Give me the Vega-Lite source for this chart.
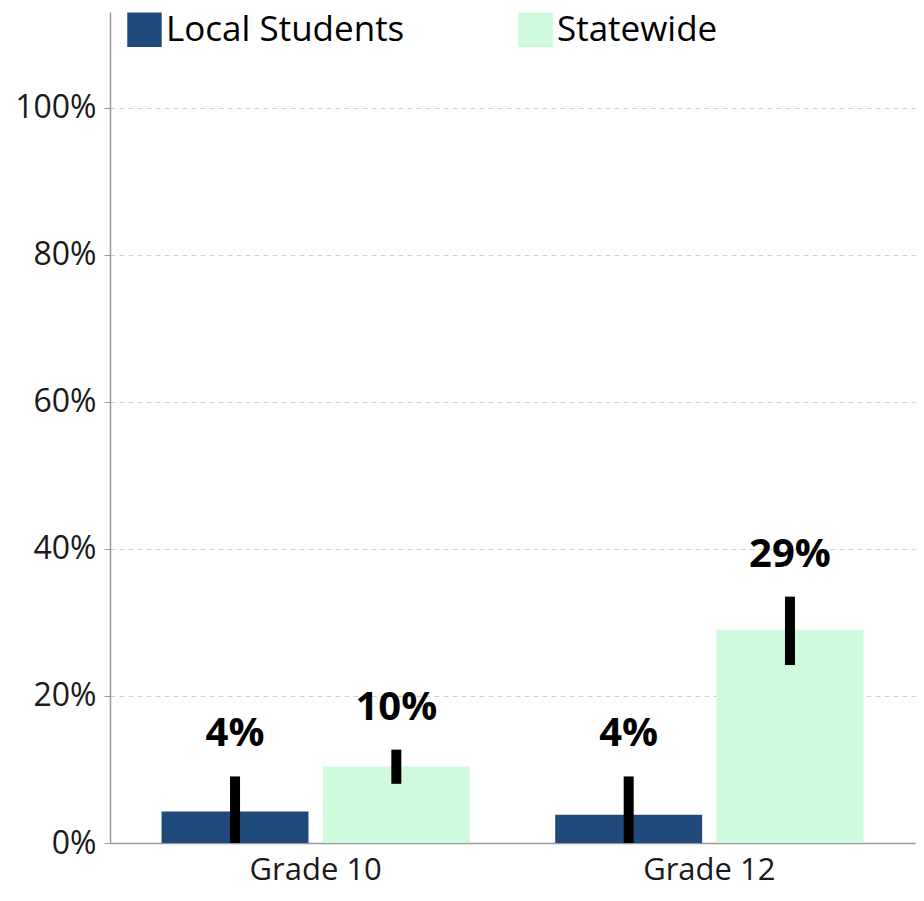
{
  "$schema": "https://vega.github.io/schema/vega-lite/v6.json",
  "width": 805,
  "height": 831,
  "autosize": {"type": "none"},
  "padding": {"left": 110, "top": 12, "right": 9, "bottom": 58},
  "config": {"view": {"stroke": null}, "font": "Open Sans"},
  "data": {
    "values": [
      {"grade": "Grade 10", "group": "Local Students", "value": 4.3, "lo": 0, "hi": 9.05, "label": "4%"},
      {"grade": "Grade 10", "group": "Statewide", "value": 10.4, "lo": 8.05, "hi": 12.7, "label": "10%"},
      {"grade": "Grade 12", "group": "Local Students", "value": 3.85, "lo": 0, "hi": 9.05, "label": "4%"},
      {"grade": "Grade 12", "group": "Statewide", "value": 29.0, "lo": 24.2, "hi": 33.5, "label": "29%"}
    ]
  },
  "encoding": {
    "x": {
      "field": "grade",
      "type": "nominal",
      "scale": {"paddingInner": 0.217, "paddingOuter": 0.131},
      "axis": {
        "title": null,
        "ticks": false,
        "labelAngle": 0,
        "labelFontSize": 31,
        "labelFont": "Open Sans",
        "labelColor": "#1a1a1a",
        "labelPadding": 12,
        "domainColor": "#999999",
        "domainWidth": 1.5
      }
    },
    "xOffset": {"field": "group", "type": "nominal", "scale": {"paddingInner": 0.089, "paddingOuter": 0}}
  },
  "layer": [
    {
      "mark": {"type": "bar"},
      "encoding": {
        "y": {
          "field": "value",
          "type": "quantitative",
          "scale": {"domain": [0, 113], "nice": false, "zero": true},
          "axis": {
            "title": null,
            "values": [0, 20, 40, 60, 80, 100],
            "labelExpr": "datum.value + '%'",
            "grid": true,
            "gridDash": [5, 4],
            "gridColor": "#d0d0d0",
            "domainColor": "#999999",
            "domainWidth": 1.5,
            "tickColor": "#999999",
            "tickSize": 6,
            "labelFontSize": 32,
            "labelFont": "Open Sans",
            "labelColor": "#1a1a1a",
            "labelPadding": 8
          }
        },
        "color": {
          "field": "group",
          "type": "nominal",
          "scale": {"domain": ["Local Students", "Statewide"], "range": ["#214a7c", "#cffadc"]},
          "legend": {
            "title": null,
            "orient": "none",
            "legendX": 17,
            "legendY": 0,
            "direction": "horizontal",
            "columns": 2,
            "padding": 0,
            "symbolType": "square",
            "symbolSize": 1190,
            "symbolStrokeWidth": 0,
            "labelFontSize": 35,
            "labelFont": "Open Sans",
            "labelColor": "#000000",
            "labelOffset": 4,
            "labelLimit": 400,
            "columnPadding": 113
          }
        }
      }
    },
    {
      "mark": {"type": "rule", "strokeWidth": 10, "color": "#000000"},
      "encoding": {
        "y": {"field": "lo", "type": "quantitative"},
        "y2": {"field": "hi"}
      }
    },
    {
      "mark": {"type": "text", "dy": -42, "fontWeight": "bold", "fontSize": 40, "font": "Open Sans", "color": "#000000", "baseline": "middle"},
      "encoding": {
        "y": {"field": "hi", "type": "quantitative"},
        "text": {"field": "label"}
      }
    }
  ]
}
